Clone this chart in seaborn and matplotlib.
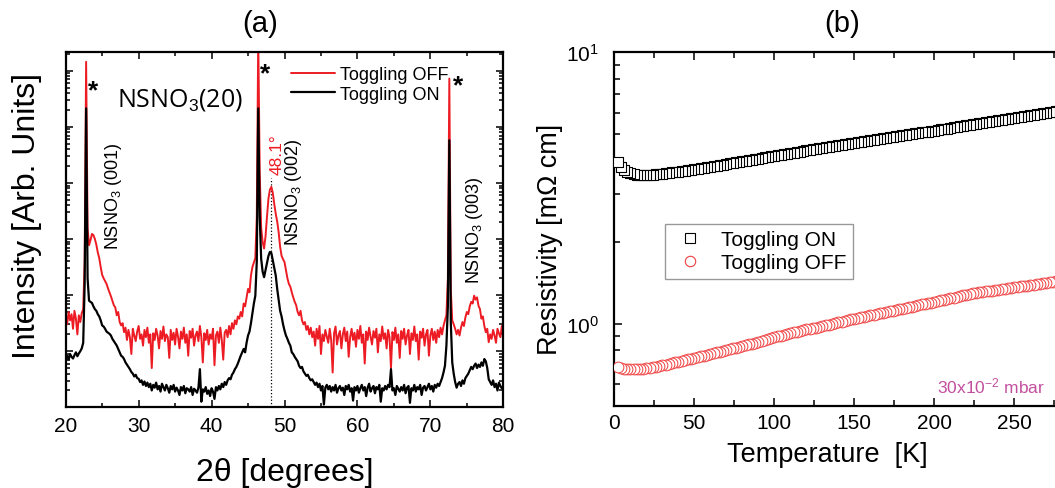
import numpy as np
import pandas as pd
import matplotlib
matplotlib.use("Agg")
import matplotlib.pyplot as plt
import seaborn as sns
from matplotlib.ticker import LogLocator, NullFormatter, MultipleLocator, FixedLocator
from matplotlib.lines import Line2D

# ---------------- data ----------------
# (a) XRD: 2theta grid (0.2 deg step) and log10 intensity
two_theta = np.round(np.arange(20.0, 80.001, 0.2), 1)

xrd_off_log = [
    1.62, 1.48, 1.70, 1.55, 1.66, 1.40, 1.72, 1.58, 1.30, 1.64,   # 20.0-21.8
    1.52, 1.68, 1.75, 2.60, 6.16, 3.20, 2.89, 2.98, 3.09, 3.07,   # 22.0-23.8
    3.00, 2.90, 2.76, 2.66, 2.50, 2.36, 2.30, 2.25, 2.20, 2.12,   # 24.0-25.8
    2.05, 1.98, 1.90, 1.82, 1.78, 1.64, 1.70, 1.52, 1.46, 1.50,   # 26.0-27.8
    1.34, 1.42, 1.20, 1.38, 1.25, 0.95, 1.40, 1.28, 1.18, 1.35,   # 28.0-29.8
    1.45, 1.22, 1.30, 1.10, 1.38, 1.25, 1.42, 1.15, 1.30, 0.70,   # 30.0-31.8
    1.32, 1.20, 1.40, 1.28, 1.05, 1.36, 1.22, 1.44, 1.18, 1.30,   # 32.0-33.8
    1.25, 0.88, 1.38, 1.20, 1.33, 1.12, 1.40, 1.26, 1.05, 1.35,   # 34.0-35.8
    1.22, 1.42, 1.15, 1.30, 0.92, 1.36, 1.24, 1.40, 1.10, 1.28,   # 36.0-37.8
    1.35, 1.18, 1.45, 1.25, 0.80, 1.32, 1.20, 1.38, 1.12, 1.30,   # 38.0-39.8
    1.22, 1.40, 0.75, 1.28, 1.35, 1.15, 1.42, 1.20, 0.85, 1.33,   # 40.0-41.8
    1.38, 1.25, 1.45, 1.30, 1.50, 1.40, 1.55, 1.48, 1.62, 1.58,   # 42.0-43.8
    1.70, 1.62, 1.85, 1.80, 1.95, 2.11, 2.05, 2.35, 2.50, 2.58,   # 44.0-45.8
    2.66, 3.40, 6.60, 4.20, 3.20, 2.95, 2.83, 3.05, 3.40, 3.72,   # 46.0-47.8
    3.88, 3.93, 3.82, 3.62, 3.45, 3.31, 3.12, 2.86, 2.70, 2.64,   # 48.0-49.8
    2.59, 2.45, 2.30, 2.20, 2.15, 2.05, 1.96, 1.88, 1.82, 1.70,   # 50.0-51.8
    1.64, 1.72, 1.55, 1.48, 1.52, 1.38, 1.45, 1.30, 1.42, 1.25,   # 52.0-53.8
    1.35, 1.10, 1.40, 1.22, 1.45, 0.95, 1.30, 1.18, 1.38, 1.26,   # 54.0-55.8
    1.15, 1.40, 1.20, 0.62, 1.32, 1.44, 1.12, 1.28, 1.36, 1.05,   # 56.0-57.8
    1.30, 1.42, 1.18, 1.35, 0.90, 1.25, 1.40, 1.20, 1.33, 1.08,   # 58.0-59.8
    1.38, 1.22, 1.45, 1.15, 1.30, 0.78, 1.35, 1.20, 1.42, 1.26,   # 60.0-61.8
    1.12, 1.36, 1.24, 1.40, 0.98, 1.30, 1.18, 1.44, 1.22, 1.32,   # 62.0-63.8
    1.05, 1.38, 1.25, 0.70, 1.34, 1.20, 1.42, 1.15, 1.30, 0.88,   # 64.0-65.8
    1.36, 1.22, 1.40, 1.12, 1.28, 1.38, 0.95, 1.32, 1.20, 1.44,   # 66.0-67.8
    1.18, 1.30, 0.85, 1.35, 1.24, 1.40, 1.10, 1.30, 1.38, 0.92,   # 68.0-69.8
    1.28, 1.40, 1.20, 1.35, 1.15, 1.38, 1.25, 1.42, 1.30, 1.45,   # 70.0-71.8
    1.55, 1.64, 2.30, 5.86, 2.10, 1.55, 1.48, 1.40, 1.30, 1.38,   # 72.0-73.8
    1.28, 1.42, 1.52, 1.45, 1.60, 1.70, 1.66, 1.80, 1.88, 1.85,   # 74.0-75.8
    1.99, 1.92, 1.96, 1.81, 1.75, 1.58, 1.62, 1.45, 1.34, 1.40,   # 76.0-77.8
    1.16, 1.30, 1.22, 1.38, 1.28, 1.15, 1.40, 1.32, 1.25, 1.45,   # 78.0-79.8
    1.40,                                                         # 80.0
]

xrd_on_log = [
    0.88, 0.92, 0.85, 0.95, 0.90, 0.87, 0.93, 0.98, 0.91, 0.96,   # 20.0-21.8
    1.00, 1.05, 1.15, 2.20, 5.33, 2.30, 1.90, 1.88, 1.86, 1.80,   # 22.0-23.8
    1.75, 1.72, 1.66, 1.62, 1.55, 1.46, 1.44, 1.40, 1.35, 1.33,   # 24.0-25.8
    1.31, 1.28, 1.22, 1.18, 1.14, 1.10, 1.04, 0.98, 0.92, 0.90,   # 26.0-27.8
    0.86, 0.80, 0.76, 0.72, 0.68, 0.63, 0.60, 0.55, 0.58, 0.52,   # 28.0-29.8
    0.51, 0.45, 0.48, 0.40, 0.46, 0.38, 0.44, 0.36, 0.42, 0.30,   # 30.0-31.8
    0.40, 0.35, 0.44, 0.32, 0.38, 0.28, 0.42, 0.36, 0.30, 0.40,   # 32.0-33.8
    0.34, 0.26, 0.38, 0.32, 0.40, 0.28, 0.35, 0.30, 0.22, 0.36,   # 34.0-35.8
    0.30, 0.38, 0.25, 0.34, 0.32, 0.28, 0.36, 0.22, 0.33, 0.30,   # 36.0-37.8
    0.26, 0.35, 0.68, 0.10, 0.32, 0.28, 0.36, 0.24, 0.30, 0.20,   # 38.0-39.8
    0.34, 0.28, 0.15, 0.36, 0.30, 0.38, 0.32, 0.42, 0.36, 0.45,   # 40.0-41.8
    0.40, 0.48, 0.52, 0.50, 0.58, 0.62, 0.68, 0.72, 0.78, 0.85,   # 42.0-43.8
    0.92, 0.98, 1.04, 0.98, 1.15, 1.28, 1.35, 1.50, 1.68, 1.85,   # 44.0-45.8
    1.99, 2.60, 5.33, 3.40, 2.65, 2.42, 2.32, 2.45, 2.59, 2.70,   # 46.0-47.8
    2.77, 2.75, 2.62, 2.48, 2.35, 2.11, 1.92, 1.72, 1.62, 1.48,   # 48.0-49.8
    1.37, 1.28, 1.22, 1.15, 1.10, 0.98, 0.95, 0.90, 0.86, 0.82,   # 50.0-51.8
    0.74, 0.70, 0.72, 0.64, 0.60, 0.56, 0.58, 0.52, 0.48, 0.50,   # 52.0-53.8
    0.45, 0.40, 0.44, 0.36, 0.42, 0.30, 0.38, 0.05, 0.35, 0.40,   # 54.0-55.8
    0.32, 0.38, 0.28, 0.36, 0.30, 0.40, 0.26, 0.34, 0.38, 0.30,   # 56.0-57.8
    0.35, 0.22, 0.38, 0.32, 0.40, 0.28, 0.34, 0.12, 0.36, 0.30,   # 58.0-59.8
    0.38, 0.26, 0.34, 0.40, 0.30, 0.36, 0.20, 0.35, 0.42, 0.28,   # 60.0-61.8
    0.34, 0.38, 0.25, 0.36, 0.32, 0.40, 0.10, 0.34, 0.30, 0.38,   # 62.0-63.8
    0.32, 0.40, 0.36, 0.68, 0.30, 0.34, 0.22, 0.38, 0.33, 0.28,   # 64.0-65.8
    0.36, 0.30, 0.40, 0.25, 0.35, 0.38, 0.08, 0.34, 0.30, 0.40,   # 66.0-67.8
    0.28, 0.36, 0.32, 0.40, 0.22, 0.35, 0.38, 0.30, 0.36, 0.42,   # 68.0-69.8
    0.32, 0.38, 0.28, 0.40, 0.35, 0.42, 0.38, 0.45, 0.52, 0.62,   # 70.0-71.8
    0.74, 1.10, 1.80, 4.76, 1.52, 0.80, 0.60, 0.45, 0.35, 0.42,   # 72.0-73.8
    0.45, 0.38, 0.48, 0.42, 0.52, 0.56, 0.60, 0.66, 0.72, 0.68,   # 74.0-75.8
    0.74, 0.78, 0.70, 0.76, 0.72, 0.80, 0.74, 0.86, 0.82, 0.70,   # 76.0-77.8
    0.50, 0.45, 0.40, 0.48, 0.36, 0.42, 0.30, 0.44, 0.38, 0.34,   # 78.0-79.8
    0.36,                                                         # 80.0
]

peak_pos = 48.1  # NSNO3 (002) peak of the "Toggling OFF" film

# (b) resistivity (mOhm cm) vs temperature (K), 2 K steps
temperature = np.arange(2, 281, 2)
rho_on = [
    3.95, 3.78, 3.68, 3.62, 3.58, 3.56, 3.54, 3.53, 3.53, 3.53,
    3.53, 3.54, 3.55, 3.56, 3.57, 3.58, 3.60, 3.61, 3.62, 3.64,
    3.65, 3.67, 3.68, 3.70, 3.71,
    3.73, 3.74, 3.76, 3.78, 3.79, 3.81, 3.83, 3.84, 3.86, 3.88,
    3.90, 3.91, 3.93, 3.95, 3.97, 3.99, 4.00, 4.02, 4.04, 4.06,
    4.08, 4.10, 4.12, 4.14, 4.16,
    4.18, 4.20, 4.21, 4.23, 4.25, 4.27, 4.29, 4.31, 4.33, 4.35,
    4.37, 4.39, 4.41, 4.43, 4.45, 4.47, 4.49, 4.51, 4.53, 4.55,
    4.57, 4.59, 4.61, 4.63, 4.65,
    4.67, 4.69, 4.71, 4.73, 4.75, 4.77, 4.79, 4.81, 4.83, 4.85,
    4.87, 4.89, 4.91, 4.93, 4.95, 4.97, 4.99, 5.01, 5.03, 5.05,
    5.07, 5.09, 5.11, 5.13, 5.15,
    5.17, 5.20, 5.22, 5.24, 5.27, 5.29, 5.31, 5.34, 5.36, 5.38,
    5.41, 5.43, 5.45, 5.48, 5.50, 5.52, 5.54, 5.57, 5.59, 5.61,
    5.64, 5.66, 5.68, 5.71, 5.73,
    5.76, 5.78, 5.81, 5.83, 5.86, 5.88, 5.91, 5.94, 5.96, 5.99,
    6.01, 6.04, 6.06, 6.09, 6.11,
]
rho_off = [
    0.694, 0.688, 0.683, 0.681, 0.680, 0.680, 0.681, 0.682, 0.684, 0.686,
    0.689, 0.692, 0.696, 0.700, 0.704, 0.708, 0.713, 0.717, 0.722, 0.727,
    0.731, 0.736, 0.740, 0.745, 0.750,
    0.755, 0.760, 0.765, 0.770, 0.776, 0.781, 0.786, 0.791, 0.796, 0.801,
    0.807, 0.812, 0.817, 0.823, 0.829, 0.835, 0.841, 0.847, 0.853, 0.860,
    0.866, 0.873, 0.880, 0.887, 0.894,
    0.900, 0.906, 0.912, 0.918, 0.924, 0.930, 0.936, 0.942, 0.948, 0.954,
    0.960, 0.965, 0.970, 0.976, 0.982, 0.988, 0.994, 1.000, 1.006, 1.013,
    1.019, 1.026, 1.032, 1.039, 1.046,
    1.052, 1.058, 1.064, 1.070, 1.076, 1.082, 1.088, 1.094, 1.100, 1.107,
    1.113, 1.118, 1.125, 1.131, 1.138, 1.145, 1.152, 1.159, 1.166, 1.173,
    1.180, 1.187, 1.194, 1.199, 1.204,
    1.212, 1.220, 1.228, 1.236, 1.244, 1.251, 1.258, 1.266, 1.274, 1.282,
    1.290, 1.297, 1.302, 1.307, 1.312, 1.317, 1.322, 1.327, 1.332, 1.337,
    1.342, 1.347, 1.352, 1.358, 1.363,
    1.369, 1.374, 1.380, 1.385, 1.391, 1.396, 1.402, 1.408, 1.413, 1.419,
    1.424, 1.430, 1.436, 1.441, 1.447,
]
temp_tick_labels = [0, 50, 100, 150, 200, 250]

# ---------------- style ----------------
sns.set_style("ticks")
plt.rcParams["font.family"] = ["Liberation Sans", "DejaVu Sans"]
plt.rcParams["mathtext.fontset"] = "custom"
plt.rcParams["mathtext.rm"] = "Liberation Sans"
plt.rcParams["mathtext.it"] = "Liberation Sans:italic"
plt.rcParams["mathtext.bf"] = "Liberation Sans:bold"
for k in ["text.color", "axes.labelcolor", "xtick.color", "ytick.color", "axes.edgecolor"]:
    plt.rcParams[k] = "black"
plt.rcParams["axes.linewidth"] = 1.6

RED = "#ed1c24"
W, H = 1055, 489
fig = plt.figure(figsize=(W / 100, H / 100), dpi=100)

def px_axes(l, t, r, b):
    return [l / W, 1 - b / H, (r - l) / W, (b - t) / H]

ax1 = fig.add_axes(px_axes(65.7, 52.7, 503.3, 408.3))
ax2 = fig.add_axes(px_axes(614.3, 53.3, 1094.3, 406.7))

# ---------------- (a) XRD ----------------
xrd = pd.DataFrame({
    "two_theta": two_theta,
    "off": 10 ** np.asarray(xrd_off_log),
    "on": 10 ** np.asarray(xrd_on_log),
})
sns.lineplot(data=xrd, x="two_theta", y="off", ax=ax1, color=RED, lw=1.4,
             estimator=None, sort=False, label="Toggling OFF")
sns.lineplot(data=xrd, x="two_theta", y="on", ax=ax1, color="black", lw=1.6,
             estimator=None, sort=False, label="Toggling ON")
ax1.set_yscale("log")
ax1.set_xlim(20, 80)
ax1.set_ylim(1, 10 ** 6.34)
ax1.vlines(peak_pos, 1, 10 ** 4.08, colors="black", linestyles=":", lw=0.9, zorder=1)

ax1.xaxis.set_major_locator(MultipleLocator(10))
ax1.xaxis.set_minor_locator(MultipleLocator(5))
ax1.yaxis.set_major_locator(LogLocator(base=10, numticks=20))
ax1.yaxis.set_minor_locator(LogLocator(base=10, subs=np.arange(2, 10), numticks=100))
ax1.yaxis.set_major_formatter(NullFormatter())
ax1.yaxis.set_minor_formatter(NullFormatter())
ax1.tick_params(which="both", direction="in", top=True, right=True, width=1.1)
ax1.tick_params(which="major", length=5, labelsize=15, pad=6)
ax1.tick_params(which="minor", length=3)

ax1.set_xlabel("2\u03b8 [degrees]", fontsize=23)
ax1.set_ylabel("Intensity [Arb. Units]", fontsize=23)
ax1.xaxis.set_label_coords(0.5, -0.14)
ax1.yaxis.set_label_coords(-0.054, 0.541)

ax1.legend(loc="upper right", bbox_to_anchor=(0.875, 0.96), frameon=False,
           fontsize=13, handlelength=2.4, handletextpad=0.3, labelspacing=0.15,
           borderpad=0, borderaxespad=0)

ax1.text(35.7, 10 ** 5.5, "NSNO$_3$(20)", fontsize=18, ha="center", va="center",
         family=["Open Sans", "DejaVu Sans"])
ax1.text(26.5, 10 ** 3.78, "NSNO$_3$ (001)", fontsize=13, rotation=90, ha="center", va="center")
ax1.text(51.2, 10 ** 3.86, "NSNO$_3$ (002)", fontsize=13, rotation=90, ha="center", va="center")
ax1.text(76.1, 10 ** 3.17, "NSNO$_3$ (003)", fontsize=13, rotation=90, ha="center", va="center")
ax1.text(49.0, 10 ** 4.52, "48.1\u00b0", fontsize=12.5, rotation=90, ha="center", va="center", color=RED)
for xs, ys in [(23.75, 5.52), (47.3, 5.83), (73.8, 5.61)]:
    ax1.text(xs, 10 ** ys, "*", fontsize=19, ha="center", va="baseline", fontweight="bold")

# ---------------- (b) resistivity ----------------
res = pd.DataFrame({"T": temperature, "on": rho_on, "off": rho_off}).iloc[::-1]
sns.scatterplot(data=res, x="T", y="on", ax=ax2, marker="s", s=46, color="white",
                edgecolor="black", linewidth=0.8, zorder=3)
sns.scatterplot(data=res, x="T", y="off", ax=ax2, marker="o", s=60, color="white",
                edgecolor="#ef3e3e", linewidth=0.7, zorder=3)
ax2.set_yscale("log")
ax2.set_xlim(0, 300)
ax2.set_ylim(0.5, 10)
ax2.xaxis.set_major_locator(FixedLocator(temp_tick_labels))
ax2.xaxis.set_minor_locator(MultipleLocator(25))
ax2.yaxis.set_major_locator(LogLocator(base=10, numticks=10))
ax2.yaxis.set_minor_locator(LogLocator(base=10, subs=np.arange(2, 10), numticks=100))
ax2.yaxis.set_minor_formatter(NullFormatter())
ax2.tick_params(which="both", direction="in", top=True, right=True, width=1.1)
ax2.tick_params(which="major", length=6, labelsize=15)
ax2.tick_params(axis="x", which="major", pad=5)
ax2.tick_params(axis="y", which="major", pad=11)
ax2.tick_params(which="minor", length=4)

ax2.set_xlabel("Temperature  [K]", fontsize=19.5)
ax2.set_ylabel("Resistivity [m\u03a9 cm]", fontsize=19.5)
ax2.xaxis.set_label_coords(0.444, -0.10)
ax2.yaxis.set_label_coords(-0.107, 0.472)

handles = [
    Line2D([], [], ls="none", marker="s", ms=6.5, mfc="white", mec="black", mew=0.8),
    Line2D([], [], ls="none", marker="o", ms=7.5, mfc="white", mec="#ef3e3e", mew=0.8),
]
leg = ax2.legend(handles, ["Toggling ON", "Toggling OFF"], loc="upper left",
                 bbox_to_anchor=(0.106, 0.514), fontsize=15, frameon=True,
                 fancybox=False, edgecolor="#808080", borderpad=0.3,
                 handlelength=1.8, handletextpad=0.6, labelspacing=0.2,
                 borderaxespad=0)
leg.get_frame().set_linewidth(1.0)

ax2.text(269.2, 0.558, "30x10$^{-2}$ mbar", fontsize=12.5, color="#c24f9e",
         ha="right", va="baseline")

# ---------------- panel titles ----------------
fig.text(260 / W, 1 - 24 / H, "(a)", fontsize=21, ha="center", va="center")
fig.text(842 / W, 1 - 24 / H, "(b)", fontsize=21, ha="center", va="center")

fig.savefig("out.png", dpi=100)
